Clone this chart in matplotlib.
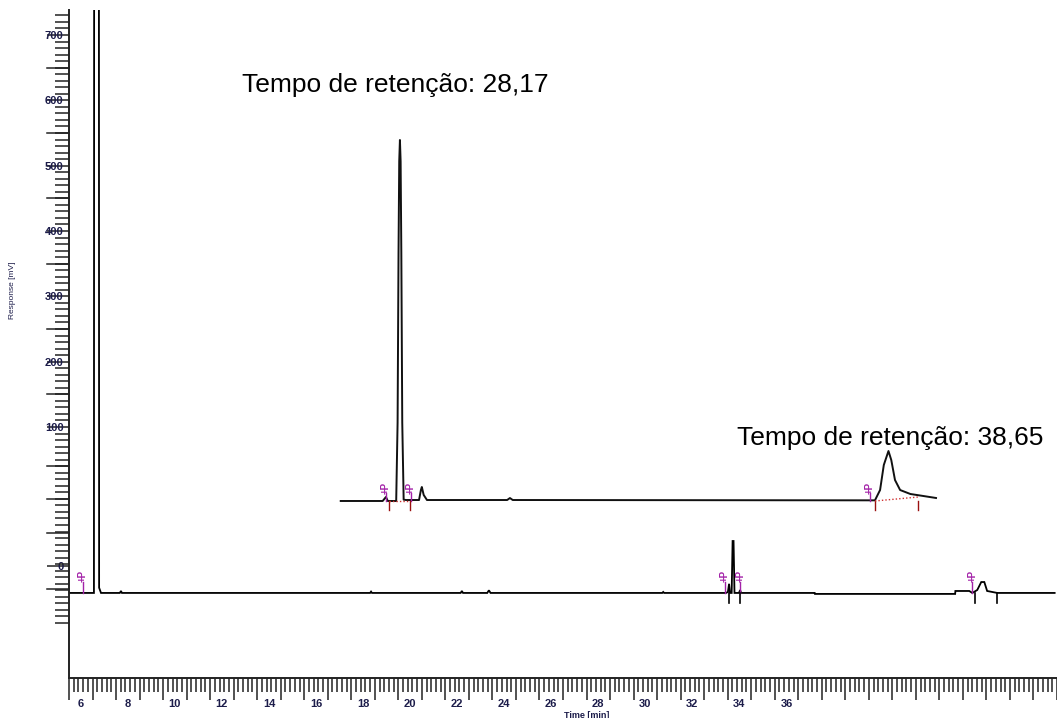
import matplotlib
matplotlib.use("Agg")
import matplotlib.pyplot as plt
import numpy as np

plt.rcParams['font.family'] = ['Liberation Sans', 'DejaVu Sans']

# ---------------- data (main chromatogram) ----------------
main_time = [5.50, 6.10, 6.56, 6.57, 6.77, 6.78, 6.86, 7.66, 7.71, 7.75, 18.30, 18.34, 18.38,
             22.15, 22.20, 22.25, 23.28, 23.35, 23.42, 30.72, 30.76, 30.80,
             33.43, 33.51, 33.56, 33.60, 33.67, 33.71, 33.75, 33.79, 33.98, 34.03, 34.07, 34.15,
             37.20, 37.21, 43.17, 43.18, 43.77, 43.90, 44.11, 44.28, 44.41, 44.53, 44.96, 47.40]
main_resp = [-154, -154, -154, 1000, 1000, -146, -154, -154, -151, -154, -154, -152, -154,
             -154, -151, -154, -154, -150, -154, -154, -152.5, -154,
             -154, -152.5, -140, -154, -154, -74.5, -74.5, -154, -154, -149.5, -154, -154,
             -154, -155.5, -155.5, -151, -151, -154, -149.5, -137.3, -137.3, -151, -154, -154]

main_markers = [6.10, 33.39, 34.03, 43.90]       # magenta "P" flags
main_ticks = [33.56, 34.03, 44.00, 44.96]        # baseline start/end ticks

# ---------------- data (inset) ----------------
inset_time = [26.90, 27.80, 27.87, 27.91, 28.09, 28.12, 28.14, 28.155, 28.17, 28.185, 28.20,
              28.22, 28.25, 28.30, 28.58, 28.62, 28.64, 28.68, 28.75, 30.47, 30.53, 30.59,
              38.36, 38.47, 38.55, 38.65, 38.71, 38.79, 38.90, 39.12, 39.33, 39.67]
inset_resp = [0, 0, 6.1, 0, 0, 120, 380, 520, 552.6, 520, 380,
              120, 2, 1.5, 1.5, 16.8, 21.4, 9.2, 1.5, 1.5, 4.5, 1.5,
              1.0, 16.8, 55.1, 76.5, 62.8, 32.1, 16.8, 10.7, 8.4, 4.6]
inset_markers = [27.87, 28.41, 38.25]
inset_ticks = [27.94, 28.39, 38.36, 39.29]
inset_base_start = [27.94, 38.36]
inset_base_end = [28.39, 39.29]
inset_base_level_end = [0.0, 6.1]

ann_text = ["Tempo de retenção: 28,17", "Tempo de retenção: 38,65"]

# y ticks
ylab_pos = [700, 600, 500, 400, 300, 200, 100, -113]
ylab_txt = ["700", "600", "500", "400", "300", "200", "100", "0"]
ylong_pos = [650, 550, 450, 350, 250, 150, 40, -10, -62, -148]
xlab_vals = list(range(6, 37, 2))

navy = '#1c1c4a'
mag = '#a322a8'
dred = '#9a1010'

W, H = 1057, 718
fig = plt.figure(figsize=(W / 100, H / 100), dpi=100, facecolor='white')
ax = fig.add_axes([69 / W, 40 / H, (W - 69) / W, 668 / H])
ax.plot(main_time, main_resp, color='black', lw=1.3, solid_joinstyle='miter')
ax.set_xlim(5.50, 47.37)
ax.set_ylim(-284.2, 738.3)

for s in ['top', 'right']:
    ax.spines[s].set_visible(False)
for s in ['left', 'bottom']:
    ax.spines[s].set_linewidth(1.4)
    ax.spines[s].set_color('#222222')

# main markers
for t in main_markers:
    ax.plot([t, t], [-154, -137], color=mag, lw=1)
    ax.text(t, -137, "+P", rotation=90, color=mag, fontsize=7, ha='center', va='bottom',
            fontweight='bold')
for t in main_ticks:
    ax.plot([t, t], [-154, -170], color='black', lw=1.2)

# y ticks
ax.set_yticks(ylab_pos)
ax.set_yticklabels(ylab_txt, fontsize=8, color=navy, fontweight='bold')
ax.yaxis.set_minor_locator(matplotlib.ticker.FixedLocator(list(range(740, -205, -10))))
ax.tick_params(axis='y', which='major', length=16, width=1.1, color='#222222', pad=-12)
ax.tick_params(axis='y', which='minor', length=10, width=1.1, color='#222222')
ytr = matplotlib.transforms.blended_transform_factory(ax.transAxes, ax.transData)
for yv in ylong_pos:
    ax.plot([0, -22 / 988], [yv, yv], transform=ytr, color='#222222', lw=1.1, clip_on=False)

# x ticks
ax.set_xticks(np.arange(5.5, 47.6, 1.0))
ax.set_xticklabels([])
ax.xaxis.set_minor_locator(matplotlib.ticker.FixedLocator(np.arange(5.5, 47.6, 0.2)))
ax.tick_params(axis='x', which='major', length=15.5, width=1.1, color='#222222')
ax.tick_params(axis='x', which='minor', length=10, width=1.1, color='#222222')
ax.set_xlabel("Time [min]", fontsize=6.5, color=navy, fontweight='bold')
ax.xaxis.set_label_coords((587 - 69) / 988, -0.056)
ax.xaxis.label.set_va('center')

sec = ax.secondary_xaxis('bottom')
sec.set_xticks(xlab_vals)
sec.set_xticklabels([str(v) for v in xlab_vals], fontsize=8, color=navy, fontweight='bold')
sec.tick_params(axis='x', length=0, pad=15)
sec.spines['bottom'].set_visible(False)

fig.text(13 / W, 1 - 290 / H, "Response [mV]", rotation=90, fontsize=6, color=navy,
         ha='center', va='center')

# ---------------- inset ----------------
axi = fig.add_axes([330 / W, (H - 520) / H, 620 / W, 390 / H])
axi.set_xlim(26.67, 39.97)
axi.set_ylim(-29.1, 567.9)
axi.axis('off')
axi.patch.set_alpha(0)
axi.plot(inset_time, inset_resp, color='#111111', lw=1.4)
for t in inset_markers:
    axi.plot([t, t], [0, 12], color=mag, lw=1)
    axi.text(t, 11, "+P", rotation=90, color=mag, fontsize=7, ha='center', va='bottom',
             fontweight='bold')
for t in inset_ticks:
    axi.plot([t, t], [0, -13.8], color=dred, lw=1)
for a, b, e in zip(inset_base_start, inset_base_end, inset_base_level_end):
    axi.plot([a, b], [0, e], color='#d03030', lw=1, ls=(0, (1, 1.5)))

fig.text(242 / W, 1 - 85 / H, ann_text[0], fontsize=19, ha='left', va='center', color='black')
fig.text(737 / W, 1 - 438 / H, ann_text[1], fontsize=19, ha='left', va='center', color='black')

fig.savefig("out.png", dpi=100, facecolor='white')
